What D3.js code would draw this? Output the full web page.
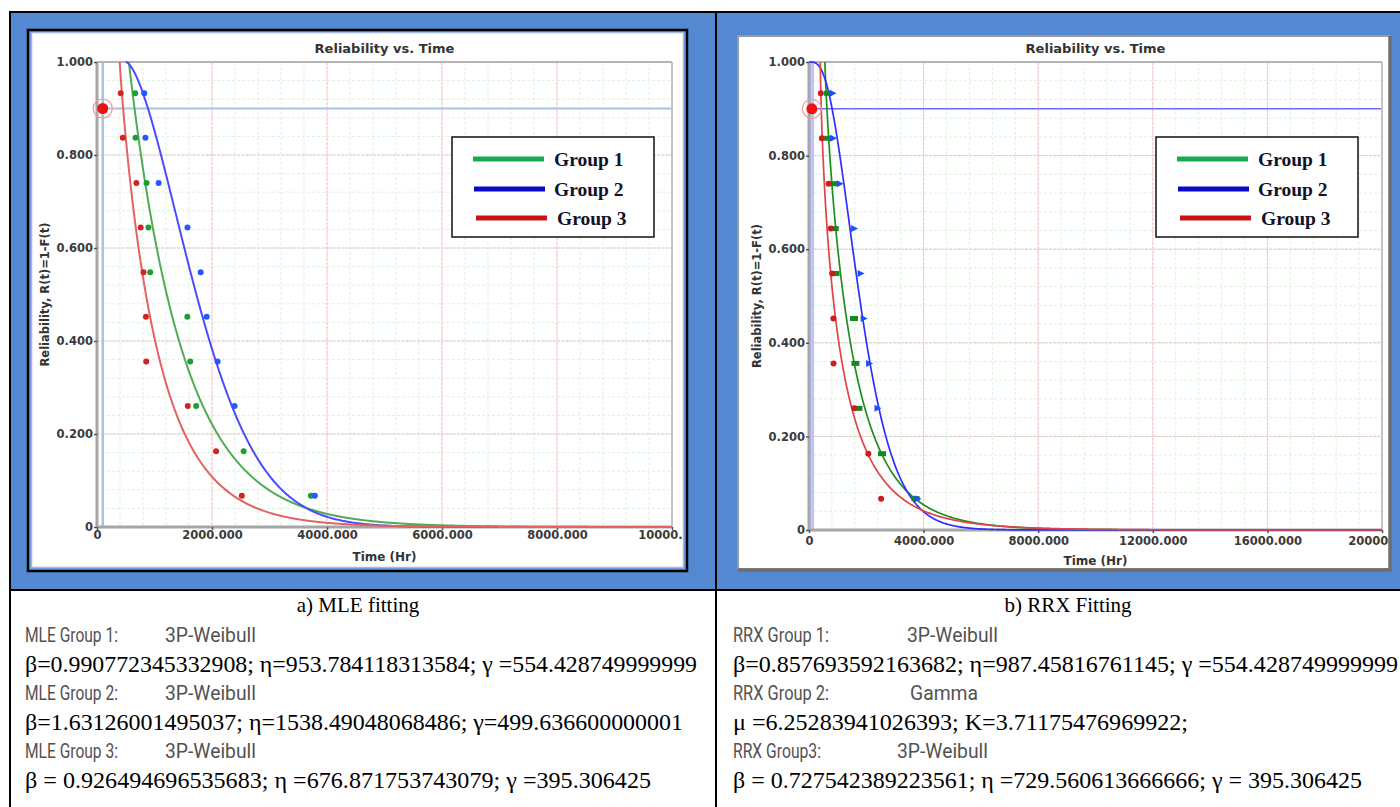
<!DOCTYPE html>
<html>
<head>
<meta charset="utf-8">
<script src="https://cdn.jsdelivr.net/npm/d3@7"></script>
<style>
  html, body { margin: 0; padding: 0; background: #fff; }
  svg { display: block; }
</style>
</head>
<body>
<svg id="fig" width="1400" height="807"></svg>
<script>
// ---------------- data ----------------
const groups = ["Group 1", "Group 2", "Group 3"];

// median-rank reliability of the ordered failures
const rankReliability = [0.933, 0.837, 0.740, 0.644, 0.548, 0.452, 0.356, 0.260, 0.163, 0.067];

// failure times (Hr); null = no plotted point at that rank
const group1Times = [665, 670, 862, 895, 925, 1571, 1621, 1725, 2550, 3720];
const group2Times = [822, 842, 1072, 1574, 1803, 1908, 2097, 2392, null, 3788];
const group3Times = [412, 448, 685, 760, 808, 851, 856, 1578, 2071, 2518];

// MLE fits (3P-Weibull for every group)
const mleDist  = ["3P-Weibull", "3P-Weibull", "3P-Weibull"];
const mleBeta  = ["0.990772345332908", "1.63126001495037", "0.926494696535683"];
const mleEta   = ["953.784118313584", "1538.49048068486", "676.871753743079"];
const mleGamma = ["554.428749999999", "499.636600000001", "395.306425"];

// RRX fits (group 2 uses the Gamma distribution)
const rrxDist  = ["3P-Weibull", "Gamma", "3P-Weibull"];
const rrxBeta  = ["0.857693592163682", null, "0.727542389223561"];
const rrxEta   = ["987.45816761145", null, "729.560613666666"];
const rrxGamma = ["554.428749999999", null, "395.306425"];
const rrxGammaMu = "6.25283941026393";
const rrxGammaK  = "3.71175476969922";

// axes
const mleXTicks = [0, 2000, 4000, 6000, 8000, 10000];
const mleXTickLabels = ["0", "2000.000", "4000.000", "6000.000", "8000.000", "10000.000"];
const rrxXTicks = [0, 4000, 8000, 12000, 16000, 20000];
const rrxXTickLabels = ["0", "4000.000", "8000.000", "12000.000", "16000.000", "20000.000"];
const yTicks = [0, 0.2, 0.4, 0.6, 0.8, 1.0];
const yTickLabels = ["0", "0.200", "0.400", "0.600", "0.800", "1.000"];

// reliability target marker
const targetTime = 100;
const targetReliability = 0.9;

// ---------------- math ----------------
function weibull3(beta, eta, gamma) {
  return t => (t <= gamma ? 1 : Math.exp(-Math.pow((t - gamma) / eta, beta)));
}
function lnGamma(z) {
  const c = [0.99999999999980993, 676.5203681218851, -1259.1392167224028, 771.32342877765313,
    -176.61502916214059, 12.507343278686905, -0.13857109526572012, 9.9843695780195716e-6,
    1.5056327351493116e-7];
  if (z < 0.5) return Math.log(Math.PI / Math.sin(Math.PI * z)) - lnGamma(1 - z);
  z -= 1;
  let x = c[0];
  for (let i = 1; i < 9; i++) x += c[i] / (z + i);
  const t = z + 7.5;
  return 0.5 * Math.log(2 * Math.PI) + (z + 0.5) * Math.log(t) - t + Math.log(x);
}
// regularized lower incomplete gamma P(a, x)
function gammaP(a, x) {
  if (x <= 0) return 0;
  const lead = Math.exp(-x + a * Math.log(x) - lnGamma(a));
  if (x < a + 1) {
    let ap = a, sum = 1 / a, del = sum;
    for (let n = 0; n < 500; n++) {
      ap += 1; del *= x / ap; sum += del;
      if (Math.abs(del) < Math.abs(sum) * 1e-14) break;
    }
    return sum * lead;
  }
  const tiny = 1e-300;
  let b = x + 1 - a, c = 1 / tiny, d = 1 / b, h = d;
  for (let i = 1; i < 500; i++) {
    const an = -i * (i - a);
    b += 2;
    d = an * d + b; if (Math.abs(d) < tiny) d = tiny;
    c = b + an / c; if (Math.abs(c) < tiny) c = tiny;
    d = 1 / d;
    const del = d * c; h *= del;
    if (Math.abs(del - 1) < 1e-14) break;
  }
  return 1 - lead * h;
}
// Weibull++ style gamma: ln(t) - mu follows a log-gamma with shape k
function gammaRel(mu, k) {
  const scale = Math.exp(mu);
  return t => (t <= 0 ? 1 : 1 - gammaP(k, t / scale));
}
function sampleCurve(fn, t0, t1) {
  const n = 900;
  return d3.range(n + 1).map(i => {
    const u = i / n;
    const t = t0 + (t1 - t0) * u * u * u;
    return [t, fn(t)];
  });
}

const groupTimes = [group1Times, group2Times, group3Times];
const groupPoints = groupTimes.map(times =>
  times.map((t, i) => ({ t, r: rankReliability[i] })).filter(p => p.t !== null));

const mleCurves = groups.map((g, i) => ({
  fn: weibull3(+mleBeta[i], +mleEta[i], +mleGamma[i]), start: +mleGamma[i]
}));
const rrxCurves = groups.map((g, i) => rrxDist[i] === "Gamma"
  ? { fn: gammaRel(+rrxGammaMu, +rrxGammaK), start: 0 }
  : { fn: weibull3(+rrxBeta[i], +rrxEta[i], +rrxGamma[i]), start: +rrxGamma[i] });

// ---------------- page frame ----------------
const svg = d3.select("#fig");
const PANEL_BLUE = "#5489d2";

svg.append("rect").attr("x", 0).attr("y", 0).attr("width", 1400).attr("height", 807).attr("fill", "#fff");
svg.append("rect").attr("x", 10).attr("y", 12).attr("width", 706).attr("height", 578).attr("fill", PANEL_BLUE);
svg.append("rect").attr("x", 716).attr("y", 12).attr("width", 684).attr("height", 578).attr("fill", PANEL_BLUE);

const rules = svg.append("g").attr("stroke", "#000").attr("stroke-width", 2);
rules.append("line").attr("x1", 9).attr("x2", 1400).attr("y1", 12).attr("y2", 12);
rules.append("line").attr("x1", 9).attr("x2", 1400).attr("y1", 590).attr("y2", 590);
rules.append("line").attr("x1", 10).attr("x2", 10).attr("y1", 11).attr("y2", 807);
rules.append("line").attr("x1", 716).attr("x2", 716).attr("y1", 11).attr("y2", 807);

// left chart window: black frame, light blue bevel, white canvas
svg.append("rect").attr("x", 28).attr("y", 30).attr("width", 659).attr("height", 541)
  .attr("fill", "#6b9fe2").attr("stroke", "#000").attr("stroke-width", 2.5);
svg.append("rect").attr("x", 32).attr("y", 33).attr("width", 651).attr("height", 534)
  .attr("fill", "#fff").attr("stroke", "#d0d8e4").attr("stroke-width", 1);

// right chart window: grey bevelled frame
svg.append("rect").attr("x", 738).attr("y", 36).attr("width", 652).attr("height", 533)
  .attr("fill", "#fff").attr("stroke", "#9a9a9a").attr("stroke-width", 2);
svg.append("path").attr("d", "M1390,36 L1390,570 L738,570").attr("fill", "none")
  .attr("stroke", "#6e6e6e").attr("stroke-width", 3.5);

// ---------------- chart ----------------
function drawChart(o) {
  const g = svg.append("g");
  const clipId = "clip-" + o.id;
  svg.append("clipPath").attr("id", clipId).append("rect")
    .attr("x", o.clip[0]).attr("y", o.clip[1]).attr("width", o.clip[2]).attr("height", o.clip[3]);
  g.attr("clip-path", `url(#${clipId})`);

  const x = d3.scaleLinear().domain([0, o.xMax]).range([o.x0, o.x1]);
  const y = d3.scaleLinear().domain([0, 1]).range([o.y1, o.y0]);

  // minor grid (green), major grid (pink)
  const minorX = d3.range(0, o.xMax + 1e-6, o.xMax / 25);
  const minorY = d3.range(0, 1 + 1e-9, 0.04);
  const grid = g.append("g");
  grid.selectAll(".mx").data(minorX).join("line")
    .attr("x1", d => x(d)).attr("x2", d => x(d)).attr("y1", o.y0).attr("y2", o.y1)
    .attr("stroke", "#dcf3dc").attr("stroke-width", 1).attr("stroke-dasharray", "3,2");
  grid.selectAll(".my").data(minorY).join("line")
    .attr("x1", o.x0).attr("x2", o.x1).attr("y1", d => y(d)).attr("y2", d => y(d))
    .attr("stroke", "#dcf3dc").attr("stroke-width", 1).attr("stroke-dasharray", "3,2");
  grid.selectAll(".Mx").data(o.xTicks).join("line")
    .attr("x1", d => x(d)).attr("x2", d => x(d)).attr("y1", o.y0).attr("y2", o.y1)
    .attr("stroke", "#f4c0c4").attr("stroke-width", 1).attr("stroke-dasharray", "3,1");
  grid.selectAll(".My").data(yTicks).join("line")
    .attr("x1", o.x0).attr("x2", o.x1).attr("y1", d => y(d)).attr("y2", d => y(d))
    .attr("stroke", "#f4c0c4").attr("stroke-width", 1).attr("stroke-dasharray", "3,1");

  // target crosshair lines
  g.append("line").attr("x1", x(targetTime)).attr("x2", x(targetTime)).attr("y1", o.y0).attr("y2", o.y1)
    .attr("stroke", o.vColor).attr("stroke-width", o.vWidth);
  g.append("line").attr("x1", x(targetTime)).attr("x2", o.x1)
    .attr("y1", y(targetReliability)).attr("y2", y(targetReliability))
    .attr("stroke", o.hColor).attr("stroke-width", o.hWidth);

  // plot frame
  g.append("line").attr("x1", o.x0).attr("x2", o.x1).attr("y1", o.y0).attr("y2", o.y0)
    .attr("stroke", "#b4b4b4").attr("stroke-width", 2);
  g.append("line").attr("x1", o.x1).attr("x2", o.x1).attr("y1", o.y0).attr("y2", o.y1)
    .attr("stroke", "#c4c4c4").attr("stroke-width", 2);

  // axes
  const tickFont = "DejaVu Sans, Verdana, sans-serif";
  const xAxis = d3.axisBottom(x).tickValues(o.xTicks)
    .tickFormat((d, i) => o.xLabels[i]).tickSize(3).tickPadding(o.xPad);
  const yAxis = d3.axisLeft(y).tickValues(yTicks)
    .tickFormat((d, i) => yTickLabels[i]).tickSize(3).tickPadding(1);
  const ax = g.append("g").attr("transform", `translate(0,${o.y1})`).call(xAxis);
  const ay = g.append("g").attr("transform", `translate(${o.x0},0)`).call(yAxis);
  [ax, ay].forEach(a => {
    a.select(".domain").attr("stroke", "#a6a6a6").attr("stroke-width", 3);
    a.selectAll(".tick line").attr("stroke", "#555").attr("stroke-width", 1.5);
    a.selectAll(".tick text").attr("fill", "#3a3a3a").attr("font-family", tickFont)
      .attr("font-weight", "bold").attr("font-size", 11.5);
  });
  ay.select(".domain").attr("d", `M0,${o.y0}V${o.y1}`);
  ax.select(".domain").attr("d", `M${o.x0},0H${o.x1}`);

  // titles
  g.append("text").attr("x", (o.x0 + o.x1) / 2).attr("y", 53).attr("text-anchor", "middle")
    .attr("font-family", tickFont).attr("font-weight", "bold").attr("font-size", 13)
    .attr("fill", "#333").text("Reliability vs. Time");
  g.append("text").attr("x", (o.x0 + o.x1) / 2).attr("y", o.xTitleY).attr("text-anchor", "middle")
    .attr("font-family", tickFont).attr("font-weight", "bold").attr("font-size", 12)
    .attr("fill", "#333").text("Time (Hr)");
  g.append("text").attr("transform", `translate(${o.yTitleX},${(o.y0 + o.y1) / 2}) rotate(-90)`)
    .attr("text-anchor", "middle").attr("font-family", tickFont).attr("font-weight", "bold")
    .attr("font-size", 11.5).attr("fill", "#333").text("Reliability, R(t)=1-F(t)");

  // fitted curves
  const line = d3.line().x(d => x(d[0])).y(d => y(d[1]));
  o.curves.forEach((c, i) => {
    g.append("path").datum(sampleCurve(c.fn, c.start, o.xMax))
      .attr("d", line).attr("fill", "none")
      .attr("stroke", o.curveColors[i]).attr("stroke-width", o.curveWidth)
      .attr("stroke-linejoin", "round");
  });

  // data points
  groupPoints.forEach((pts, i) => {
    const pg = g.append("g").attr("fill", o.pointColors[i]);
    pts.forEach(p => {
      const px = x(p.t), py = y(p.r);
      const shape = o.pointShapes[i];
      if (shape === "circle") {
        pg.append("circle").attr("cx", px).attr("cy", py).attr("r", 3);
      } else if (shape === "rect") {
        pg.append("rect").attr("x", px - 4).attr("y", py - 2.5).attr("width", 8).attr("height", 5);
      } else {
        pg.append("path").attr("d", `M${px - 3},${py - 3.5}L${px + 4},${py}L${px - 3},${py + 3.5}Z`);
      }
    });
  });

  // target marker
  g.append("circle").attr("cx", x(targetTime)).attr("cy", y(targetReliability)).attr("r", 9.5)
    .attr("fill", "none").attr("stroke", "#f29a9a").attr("stroke-width", 1.2);
  g.append("circle").attr("cx", x(targetTime)).attr("cy", y(targetReliability)).attr("r", 5.5)
    .attr("fill", "#f01010");

  // legend
  const lg = svg.append("g");
  lg.append("rect").attr("x", o.legend.x).attr("y", o.legend.y).attr("width", 202).attr("height", 100)
    .attr("fill", "#fff").attr("stroke", "#111").attr("stroke-width", 1.5);
  const rowsY = [159, 189, 218];
  const lineOffsets = [[21, 92], [22, 93], [24, 95]];
  const textOffsets = [102, 102, 105];
  groups.forEach((name, i) => {
    lg.append("line")
      .attr("x1", o.legend.x + lineOffsets[i][0]).attr("x2", o.legend.x + lineOffsets[i][1])
      .attr("y1", rowsY[i]).attr("y2", rowsY[i])
      .attr("stroke", o.legendColors[i]).attr("stroke-width", 5);
    lg.append("text").attr("x", o.legend.x + textOffsets[i]).attr("y", rowsY[i] + 7)
      .attr("font-family", "Liberation Serif, Times New Roman, serif").attr("font-weight", "bold")
      .attr("font-size", 19.5).attr("fill", "#12122a").text(name);
  });
}

drawChart({
  id: "mle", xMax: 10000, xTicks: mleXTicks, xLabels: mleXTickLabels,
  x0: 97, x1: 672, y0: 62, y1: 527, clip: [32, 33, 651, 534],
  xPad: 1, xTitleY: 561, yTitleX: 49,
  vColor: "#a6c4e6", vWidth: 2.5, hColor: "#a6c4e6", hWidth: 2,
  curves: mleCurves,
  curveColors: ["#4fac55", "#4b4bff", "#e46262"], curveWidth: 2,
  pointColors: ["#1e9e32", "#2556ff", "#d02424"],
  pointShapes: ["circle", "circle", "circle"],
  legend: { x: 452, y: 137 },
  legendColors: ["#19aa50", "#0a0ac8", "#c81414"]
});

drawChart({
  id: "rrx", xMax: 20000, xTicks: rrxXTicks, xLabels: rrxXTickLabels,
  x0: 809, x1: 1382, y0: 62, y1: 530, clip: [739, 37, 650, 532],
  xPad: 4, xTitleY: 565, yTitleX: 761,
  vColor: "#c2c2ff", vWidth: 4.5, hColor: "#6a6aff", hWidth: 1.5,
  curves: rrxCurves,
  curveColors: ["#1e8f1e", "#2e2eff", "#e04444"], curveWidth: 1.7,
  pointColors: ["#128a1e", "#1f4cff", "#c81e1e"],
  pointShapes: ["rect", "triangle", "circle"],
  legend: { x: 1156, y: 137 },
  legendColors: ["#19aa50", "#0a0ac8", "#c81414"]
});

// ---------------- parameter table ----------------
const serif = "Liberation Serif, Times New Roman, serif";
const narrow = "Liberation Sans Narrow, Arial Narrow, Roboto, sans-serif";

const mleParamText = [
  `β=${mleBeta[0]}; η=${mleEta[0]}; γ =${mleGamma[0]}`,
  `β=${mleBeta[1]}; η=${mleEta[1]}; γ=${mleGamma[1]}`,
  `β = ${mleBeta[2]}; η =${mleEta[2]}; γ =${mleGamma[2]}`
];
const rrxParamText = [
  `β=${rrxBeta[0]}; η=${rrxEta[0]}; γ =${rrxGamma[0]}`,
  `μ =${rrxGammaMu}; K=${rrxGammaK};`,
  `β = ${rrxBeta[2]}; η =${rrxEta[2]}; γ = ${rrxGamma[2]}`
];
const mleLabelText = ["MLE Group 1:", "MLE Group 2:", "MLE Group 3:"];
const rrxLabelText = ["RRX Group 1:", "RRX Group 2:", "RRX Group3:"];

function drawColumn(c) {
  const tg = svg.append("g");
  tg.append("text").attr("x", c.headX).attr("y", 612).attr("text-anchor", "middle")
    .attr("font-family", serif).attr("font-size", 21).attr("fill", "#000").text(c.heading);
  [0, 1, 2].forEach(i => {
    const ly = 642 + i * 58;
    tg.append("text").attr("x", c.x).attr("y", ly).attr("font-family", narrow)
      .attr("font-size", 21).attr("fill", "#525252")
      .attr("textLength", c.labelW[i]).attr("lengthAdjust", "spacingAndGlyphs").text(c.labels[i]);
    tg.append("text").attr("x", c.distX[i]).attr("y", ly).attr("font-family", narrow)
      .attr("font-size", 21).attr("fill", "#525252")
      .attr("textLength", c.distW[i]).attr("lengthAdjust", "spacingAndGlyphs").text(c.dists[i]);
    tg.append("text").attr("x", c.x).attr("y", ly + 30).attr("font-family", serif)
      .attr("font-size", 23.5).attr("fill", "#000")
      .attr("textLength", c.paramW[i]).attr("lengthAdjust", "spacingAndGlyphs").text(c.params[i]);
  });
}

drawColumn({
  heading: "a) MLE fitting", headX: 358, x: 25,
  labels: mleLabelText, labelW: [93, 93, 93],
  dists: mleDist, distX: [165, 165, 165], distW: [91, 91, 91],
  params: mleParamText, paramW: [672, 658, 626]
});
drawColumn({
  heading: "b) RRX Fitting", headX: 1068, x: 733,
  labels: rrxLabelText, labelW: [96, 96, 88],
  dists: rrxDist, distX: [907, 910, 897], distW: [91, 68, 91],
  params: rrxParamText, paramW: [665, 455, 629]
});
</script>
</body>
</html>
